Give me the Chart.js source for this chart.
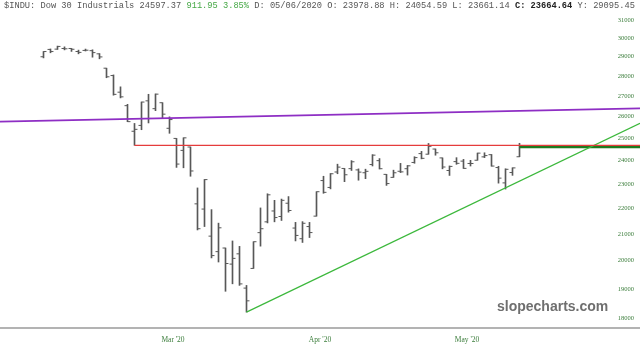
<!DOCTYPE html>
<html>
<head>
<meta charset="utf-8">
<script src="https://cdn.jsdelivr.net/npm/chart.js@4.4.1/dist/chart.umd.min.js"></script>
<style>
  html, body { margin: 0; padding: 0; background: #fff; }
  #wrap { position: relative; width: 640px; height: 352px; overflow: hidden; }
  #header {
    position: absolute; left: 4px; top: 1px; white-space: pre;
    font: 8.7px 'Liberation Mono', 'DejaVu Sans Mono', monospace; color: #555;
  }
  #header .chg { color: #45a845; }
  #header b { color: #222; }
  #mark {
    position: absolute; left: 497px; top: 298px;
    font: bold 14px 'Liberation Sans', Arial, sans-serif; color: #6f6f6f;
  }
</style>
</head>
<body>
<div id="wrap">
  <canvas id="chart" width="640" height="352"></canvas>
  <div id="header">$INDU: Dow 30 Industrials 24597.37 <span class="chg">911.95 3.85%</span> D: 05/06/2020 O: 23978.88 H: 24054.59 L: 23661.14 <b>C: 23664.64</b> Y: 29095.45</div>
  <div id="mark">slopecharts.com</div>
</div>
<script>
/* ── daily bars, Feb 10 → May 18 2020 (one entry per trading day) ── */
const days = ['02/10','02/11','02/12','02/13','02/14','02/18','02/19','02/20','02/21','02/24','02/25','02/26','02/27','02/28',
  '03/02','03/03','03/04','03/05','03/06','03/09','03/10','03/11','03/12','03/13','03/16','03/17','03/18','03/19','03/20',
  '03/23','03/24','03/25','03/26','03/27','03/30','03/31',
  '04/01','04/02','04/03','04/06','04/07','04/08','04/09','04/13','04/14','04/15','04/16','04/17','04/20','04/21','04/22',
  '04/23','04/24','04/27','04/28','04/29','04/30',
  '05/01','05/04','05/05','05/06','05/07','05/08','05/11','05/12','05/13','05/14','05/15','05/18'];

const opens = [29000,29390,29406,29441,29441,29279,29337,29324,29155,28402,28024,27188,26528,25320,
  25591,26763,26383,26671,25457,24992,24453,24604,22184,21974,20917,20335,20469,19878,20253,
  19028,19722,21050,21468,21898,21678,22209,
  21227,20819,21285,21693,23145,22857,23509,23662,23653,23599,23477,23830,24000,23408,23280,
  23540,23650,23921,24310,24284,24513,
  24120,23573,23958,23979,23877,24018,24166,24262,23700,23047,23486,24171];
const highs = [29277,29415,29568,29528,29443,29353,29409,29370,29168,28402,28057,27454,26592,25683,
  26706,27084,27102,26671,25994,24992,25020,24604,22837,23190,21952,21418,20469,20734,20531,
  19121,20704,22020,22595,22327,22378,22480,
  21448,21477,21447,22680,23328,23444,23846,23662,24001,23643,23630,24264,24091,23408,23588,
  23881,23790,24172,24409,24764,24515,
  24120,23769,24131,24055,24015,24333,24347,24271,23755,23647,23689,24771];
const lows = [28940,29210,29391,29366,29283,29155,29306,28977,28892,27912,27040,26906,25767,24681,
  25391,25706,26287,25943,25226,23707,23690,23328,21154,21285,20103,19954,18918,19177,19122,
  18214,19722,20539,21427,21469,21522,21850,
  20735,20677,20863,21693,22615,22797,23434,23098,23574,23160,23226,23768,23638,22942,23280,
  23484,23378,23886,24078,24284,24239,
  23645,23362,23841,23661,23767,24018,24133,23759,23037,22789,23366,24171];
const closes = [29277,29276,29551,29423,29398,29232,29348,29220,28992,27961,27081,26958,25767,25409,
  26703,25917,27091,26121,25865,23851,25018,23553,21201,23186,20189,21237,19899,20087,19174,
  18592,20705,21201,22552,21637,22327,21917,
  20944,21413,21053,22680,22654,23434,23719,23391,23950,23504,23538,24242,23650,23019,23476,
  23515,23775,24134,24102,24634,24346,
  23724,23750,23883,23665,23876,24331,24222,23765,23248,23625,23685,24597.37];

/* axes */
const yTicks = [18000,19000,20000,21000,22000,23000,24000,25000,26000,27000,28000,29000,30000,31000];
const monthTickAt = [18.5, 39.5, 60.5];          // trading-day index under each label
const monthLabels = ["Mar '20", "Apr '20", "May '20"];
const xRange = [-6.214, 85.214];
const yRange = [17694, 31235];

/* drawn trend lines (day index, price) */
const purpleTrend = [[xRange[0], 25765], [xRange[1], 26402]];
const greenTrend  = [[29, 18214], [xRange[1], 25690]];
const redLevel    = [[13, 24681], [xRange[1], 24681]];
const lastLevel   = [[68, 24597.37], [xRange[1], 24597.37]];

const BAR_COLOR = '#585858';
const TICK_SHIFT = 0.21;   // open tick left, close tick right

const toPts = arr => arr.map(([x, y]) => ({ x, y }));

function lineSet(pts, color, width) {
  return {
    type: 'line', data: toPts(pts), borderColor: color, borderWidth: width,
    pointRadius: 0, pointHoverRadius: 0, fill: false, tension: 0, order: 1,
  };
}

function tickSet(values, shift) {
  return {
    type: 'line', showLine: false, order: 2,
    data: values.map((v, i) => ({ x: i + shift, y: v })),
    pointStyle: 'line', pointRadius: 1.5, pointHoverRadius: 0, pointBorderWidth: 1,
    pointBorderColor: BAR_COLOR, pointBackgroundColor: BAR_COLOR,
  };
}

const datasets = [
  lineSet(purpleTrend, '#8e2ec4', 1.8),
  lineSet(redLevel, '#e53c3c', 1.2),
  lineSet(greenTrend, '#3cb83c', 1.2),
  lineSet(lastLevel, '#1f7a1f', 2.2),
  {
    type: 'bar', order: 3,
    data: highs.map((h, i) => ({ x: i, y: [lows[i], h] })),
    backgroundColor: BAR_COLOR, borderWidth: 0, barThickness: 1,
  },
  tickSet(opens, -TICK_SHIFT),
  tickSet(closes, TICK_SHIFT),
];

// the layout should give the plot the full canvas width
function noSidePadding(s) {
  s.paddingLeft = 0;
  s.paddingRight = 0;
}

new Chart(document.getElementById('chart').getContext('2d'), {
  type: 'bar',
  data: { datasets },
  options: {
    responsive: false,
    animation: false,
    devicePixelRatio: 1,
    events: [],
    layout: { autoPadding: false, padding: { top: 16, left: 0, right: 0, bottom: 0 } },
    plugins: { legend: { display: false }, tooltip: { enabled: false } },
    scales: {
      x: {
        type: 'linear', min: xRange[0], max: xRange[1], offset: false, bounds: 'data',
        grid: { display: false, drawTicks: false },
        border: { display: true, color: '#b3b3b3', width: 2 },
        afterBuildTicks: s => { s.ticks = monthTickAt.map(v => ({ value: v })); },
        afterFit: s => { s.height = 24; noSidePadding(s); },
        ticks: {
          autoSkip: false, maxRotation: 0, padding: 8, color: '#3b7d3b',
          font: { family: "'Liberation Serif', 'Times New Roman', serif", size: 7.5 },
          callback: (v, i) => monthLabels[i],
        },
      },
      y: {
        type: 'logarithmic', position: 'right', min: yRange[0], max: yRange[1], bounds: 'data',
        grid: { display: false, drawTicks: false },
        border: { display: false },
        afterBuildTicks: s => { s.ticks = yTicks.map(v => ({ value: v })); },
        afterFit: s => { s.width = 0; noSidePadding(s); },
        ticks: {
          mirror: true, padding: -6, autoSkip: false, color: '#3b7d3b',
          font: { family: "'Liberation Serif', 'Times New Roman', serif", size: 6.5 },
          callback: v => String(v),
        },
      },
    },
  },
});
</script>
</body>
</html>
